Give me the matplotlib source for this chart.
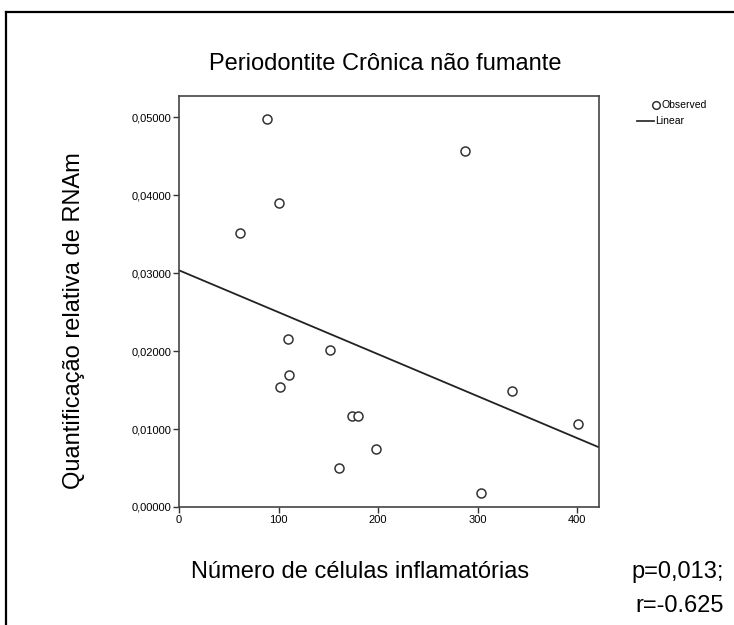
import matplotlib
matplotlib.use("Agg")
import matplotlib.pyplot as plt
from matplotlib.lines import Line2D
import numpy as np

# inflammatory cell count vs relative mRNA quantification
cells = [88, 100, 61, 110, 152, 111, 101, 174, 180, 198, 161, 287, 335, 401, 303]
rna = [0.0497, 0.0390, 0.0351, 0.0215, 0.0201, 0.0169, 0.0154, 0.0117, 0.0117,
       0.0075, 0.0050, 0.0457, 0.0149, 0.0107, 0.0018]
xticks = [0, 100, 200, 300, 400]
yticks = [0.0, 0.01, 0.02, 0.03, 0.04, 0.05]

plt.rcParams['font.family'] = ['Liberation Sans', 'DejaVu Sans']

fig = plt.figure(figsize=(7.34, 6.25), dpi=100)
W, H = 734.0, 625.0
ax = fig.add_axes([179 / W, 1 - 507 / H, 420 / W, 411 / H])

x = np.array(cells)
y = np.array(rna)
slope, intercept = np.polyfit(x, y, 1)
xs = np.array([0, 422])

ax.plot(x, y, 'o', markersize=6.5, markerfacecolor='white', markeredgecolor='#333333',
        markeredgewidth=1.1, zorder=3)
ax.plot(xs, intercept + slope * xs, color='#222222', linewidth=1.3)

ax.set_xlim(0, 422)
ax.set_ylim(0, 0.0527)
ax.set_xticks(xticks)
ax.set_yticks(yticks)
ax.set_xticklabels([str(t) for t in xticks], fontsize=8)
ax.set_yticklabels([f"{t:.5f}".replace('.', ',') for t in yticks], fontsize=8)
ax.tick_params(direction='out', length=4.5, width=1, color='#333333', pad=1)

for s in ax.spines.values():
    s.set_color('#444444')
    s.set_linewidth(1.2)

# legend drawn by hand to the right of the plot box
fig.add_artist(Line2D([656 / W], [1 - 105 / H], marker='o', markersize=5.5, markerfacecolor='white',
                      markeredgecolor='#333333', markeredgewidth=1.1, linestyle='none'))
fig.text(662 / W, 1 - 105 / H, 'Observed', ha='left', va='center', fontsize=7.5)
fig.add_artist(Line2D([637 / W, 654 / W], [1 - 121 / H, 1 - 121 / H],
                      color='#333333', linewidth=1.3))
fig.text(655 / W, 1 - 121 / H, 'Linear', ha='left', va='center', fontsize=7.5)

fig.text(385 / W, 1 - 70 / H, 'Periodontite Crônica não fumante', ha='center', va='baseline', fontsize=17)
fig.text(74 / W, 1 - 321 / H, 'Quantificação relativa de RNAm', ha='center', va='center',
         rotation=90, fontsize=17)
fig.text(360 / W, 1 - 578 / H, 'Número de células inflamatórias', ha='center', va='baseline', fontsize=17)
fig.text(724 / W, 1 - 578 / H, 'p=0,013;', ha='right', va='baseline', fontsize=17)
fig.text(724 / W, 1 - 612 / H, 'r=-0.625', ha='right', va='baseline', fontsize=17)

# outer frame: top and left edges
fig.add_artist(Line2D([6 / W, 1.0], [1 - 12 / H, 1 - 12 / H], color='black', linewidth=1.6))
fig.add_artist(Line2D([6 / W, 6 / W], [0.0, 1 - 12 / H], color='black', linewidth=1.6))

fig.savefig('out.png', dpi=100)
